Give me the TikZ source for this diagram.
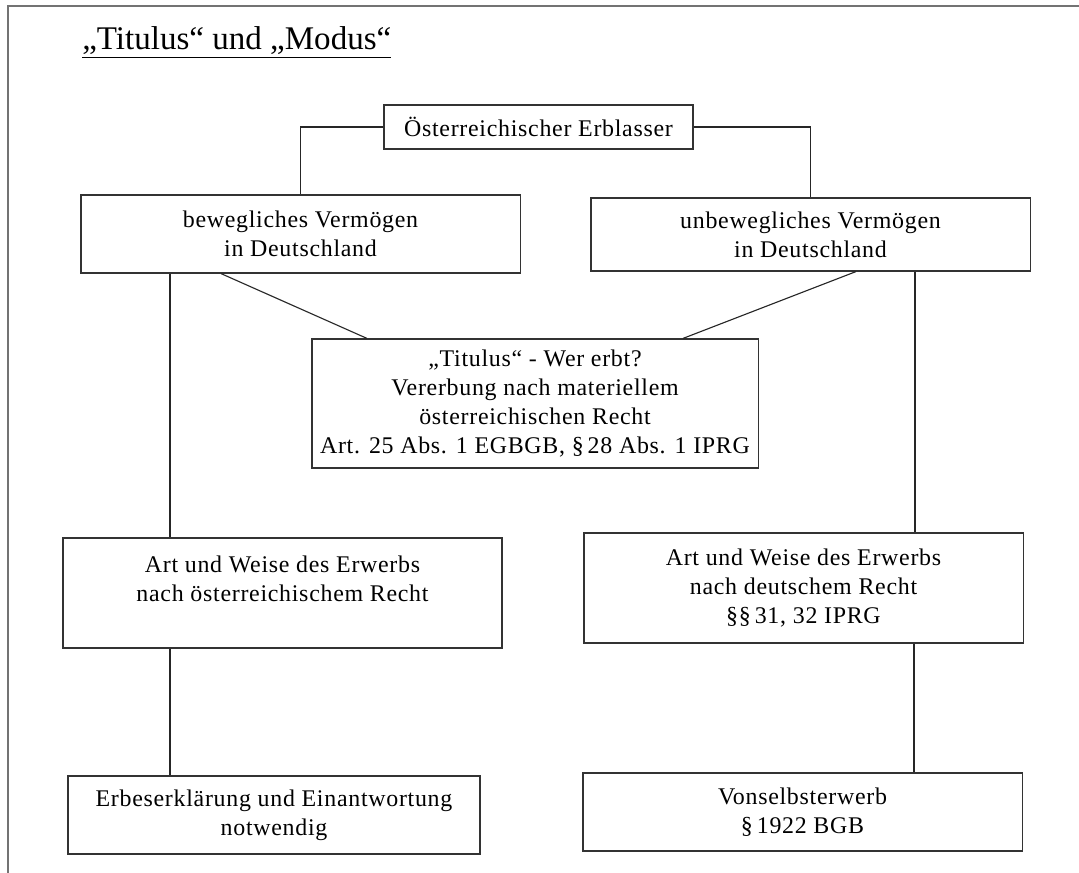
\documentclass[tikz,border=0pt]{standalone}
\usepackage{fontspec}
\setmainfont{Liberation Serif}
\newfontfamily\kastenfont[LetterSpace=3]{Liberation Serif}
\usepackage{tikz}
\usetikzlibrary{positioning}

\tikzset{
  kasten/.style={draw=black!80, line width=0.8pt, align=center, inner sep=0pt,
    font=\kastenfont\fontsize{17}{20.5}\selectfont},
  linie/.style={draw=black!85, line width=0.8pt}
}

\begin{document}
\begin{tikzpicture}[x=0.025cm, y=-0.025cm]
\useasboundingbox (0,0) rectangle (1079,873);
\draw[black!55, line width=1.2pt] (8,873) -- (8,6) -- (1079,6);
\node[anchor=base west, inner sep=0pt, font=\fontsize{23.5}{28}\selectfont] (titel) at (82,50) {\underline{„Titulus“ und „Modus“}};

\node[kasten, minimum width=7.725cm, minimum height=1.1cm] (erblasser) at (538.5,127) {Österreichischer Erblasser};
\node[kasten, minimum width=10.975cm, minimum height=1.95cm] (bew) at (300.5,234) {bewegliches Vermögen\\in Deutschland};
\node[kasten, minimum width=10.975cm, minimum height=1.825cm] (unbew) at (810.5,234.5) {unbewegliches Vermögen\\in Deutschland};
\node[kasten, minimum width=11.15cm, minimum height=3.225cm] (titulus) at (535,403.5) {„Titulus“ - Wer erbt?\\Vererbung nach materiellem\\österreichischen Recht\\Art. 25 Abs. 1 EGBGB, §\,28 Abs. 1 IPRG};
\node[kasten, minimum width=10.975cm, minimum height=2.75cm] (artoe) at (282.5,593) {Art und Weise des Erwerbs\\nach österreichischem Recht\\\mbox{}};
\node[kasten, minimum width=10.975cm, minimum height=2.75cm] (artde) at (803.5,588) {Art und Weise des Erwerbs\\nach deutschem Recht\\§§\,31, 32 IPRG};
\node[kasten, minimum width=10.3cm, minimum height=1.95cm] (erbes) at (274,815) {Erbeserklärung und Einantwortung\\notwendig};
\node[kasten, minimum width=10.975cm, minimum height=1.95cm] (vonselbst) at (802.5,812) {Vonselbsterwerb\\§\,1922 BGB};

% Verbindungen
\draw[linie] (erblasser.west) -| (bew.north);
\draw[linie] (erblasser.east) -| (unbew.north);
\draw[linie] (bew.south -| 221,0) -- (titulus.north -| 367,0);
\draw[linie] (unbew.south -| 856,0) -- (titulus.north -| 683,0);
\draw[linie] (bew.south -| 170,0) -- (artoe.north -| 170,0);
\draw[linie] (unbew.south -| 915,0) -- (artde.north -| 915,0);
\draw[linie] (artoe.south -| 170,0) -- (erbes.north -| 170,0);
\draw[linie] (artde.south -| 914,0) -- (vonselbst.north -| 914,0);
\end{tikzpicture}
\end{document}
